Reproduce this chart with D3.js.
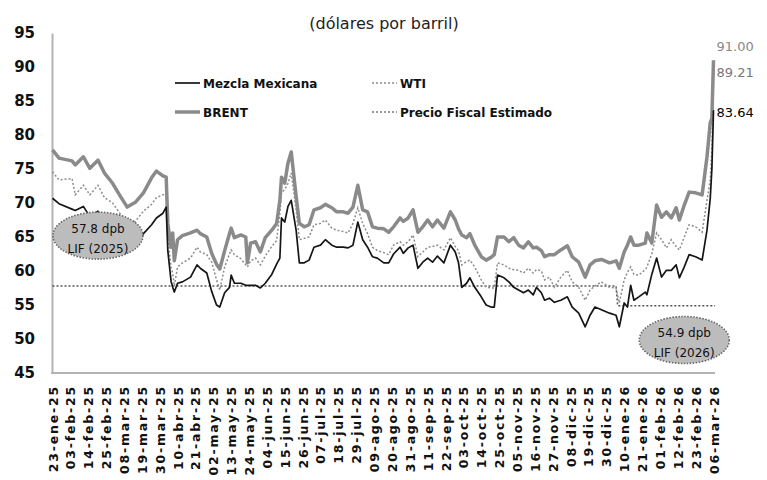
<!DOCTYPE html>
<html lang="es">
<head>
    <meta charset="utf-8" />
    <title>Precios del petróleo</title>
    <script src="https://d3js.org/d3.v7.min.js"></script>
    <style>
        body { margin: 0; background: white; }
        svg { display: block; background: white; }
        text { font-family: 'DejaVu Sans', sans-serif; fill: #111; }
    </style>
</head>
<body>
    <script>
        // Fechas (observaciones)
        const dates = [
            "2025-01-23","2025-01-27","2025-02-04","2025-02-06","2025-02-11","2025-02-15","2025-02-20","2025-02-24","2025-03-01","2025-03-06",
            "2025-03-10","2025-03-15","2025-03-20","2025-03-25","2025-03-28","2025-04-01","2025-04-03","2025-04-04","2025-04-06","2025-04-07",
            "2025-04-08","2025-04-10","2025-04-13","2025-04-18","2025-04-22","2025-04-24","2025-04-28","2025-05-01","2025-05-04","2025-05-06",
            "2025-05-09","2025-05-12","2025-05-13","2025-05-15","2025-05-19","2025-05-22","2025-05-23","2025-05-25","2025-05-28","2025-05-31",
            "2025-06-03","2025-06-07","2025-06-10","2025-06-12","2025-06-13","2025-06-15","2025-06-17","2025-06-19","2025-06-22","2025-06-24",
            "2025-06-27","2025-06-30","2025-07-03","2025-07-07","2025-07-10","2025-07-14","2025-07-17","2025-07-21","2025-07-24","2025-07-27",
            "2025-07-30","2025-08-02","2025-08-05","2025-08-08","2025-08-11","2025-08-15","2025-08-18","2025-08-21","2025-08-25","2025-08-27",
            "2025-08-30","2025-09-02","2025-09-05","2025-09-08","2025-09-11","2025-09-14","2025-09-17","2025-09-21","2025-09-25","2025-09-28",
            "2025-09-30","2025-10-02","2025-10-05","2025-10-07","2025-10-10","2025-10-14","2025-10-17","2025-10-20","2025-10-22","2025-10-24",
            "2025-10-28","2025-10-31","2025-11-03","2025-11-06","2025-11-09","2025-11-12","2025-11-15","2025-11-17","2025-11-20","2025-11-22",
            "2025-11-25","2025-11-28","2025-12-02","2025-12-06","2025-12-09","2025-12-13","2025-12-17","2025-12-20","2025-12-23","2025-12-27",
            "2026-01-01","2026-01-05","2026-01-07","2026-01-10","2026-01-12","2026-01-14","2026-01-16","2026-01-19","2026-01-23","2026-01-24",
            "2026-01-27","2026-01-30","2026-02-02","2026-02-05","2026-02-08","2026-02-11","2026-02-13","2026-02-16","2026-02-19","2026-02-23",
            "2026-02-27","2026-03-02","2026-03-04","2026-03-05","2026-03-06"
        ];

        const brent = [
            77.8, 76.6, 76.2, 75.6, 76.8, 75.1, 76.3, 74.4, 72.9, 70.9,
            69.4, 70.1, 71.5, 73.7, 74.7, 74.0, 73.8, 67.0, 63.5, 65.6,
            61.5, 64.6, 65.2, 65.6, 66.0, 65.5, 65.0, 62.6, 61.0, 60.3,
            63.0, 65.5, 66.3, 64.9, 65.3, 65.0, 61.2, 64.1, 64.3, 62.8,
            64.9, 66.0, 67.0, 70.4, 73.8, 72.9, 75.9, 77.5, 71.0, 67.0,
            66.5, 66.8, 69.0, 69.3, 69.8, 69.3, 68.7, 68.7, 68.5, 69.4,
            72.6, 69.0, 68.7, 66.5, 66.3, 66.2, 65.7, 66.5, 67.8, 67.3,
            67.8, 69.0, 65.7, 66.5, 67.5, 66.5, 67.5, 66.3, 68.7, 67.5,
            66.2, 65.3, 64.9, 65.5, 63.8, 62.1, 61.6, 62.0, 62.4, 65.0,
            65.0, 64.3, 64.9, 63.8, 63.4, 64.3, 63.4, 63.5, 63.0, 62.1,
            62.4, 62.4, 63.1, 63.7, 62.1, 61.3, 59.1, 60.9, 61.5, 61.7,
            61.2, 61.5, 60.4, 62.8, 63.8, 65.0, 63.8, 63.8, 64.1, 65.6,
            64.1, 69.7, 67.9, 68.7, 67.8, 69.3, 67.5, 69.7, 71.6, 71.5,
            71.2, 76.8, 81.8, 82.5, 91.00
        ];

        const wti = [
            74.6, 73.4, 73.6, 71.2, 72.6, 71.2, 72.6, 70.8, 70.0, 68.3,
            67.0, 67.3, 68.8, 69.8, 70.8, 71.2, 71.2, 65.0, 60.5, 59.7,
            57.8, 60.6, 61.2, 61.9, 63.5, 62.8, 62.4, 61.3, 58.7, 57.2,
            60.6, 62.5, 63.1, 62.4, 61.8, 60.9, 60.6, 61.5, 61.9, 60.9,
            62.2, 63.6, 64.5, 68.5, 71.5, 72.0, 72.9, 74.4, 69.0, 64.6,
            64.8, 65.0, 66.8, 67.0, 67.5, 66.3, 66.0, 65.8, 65.6, 67.0,
            69.3, 67.0, 65.5, 63.5, 63.0, 62.7, 62.4, 63.8, 64.3, 63.8,
            64.3, 65.3, 62.1, 62.8, 63.5, 63.6, 63.8, 63.1, 64.9, 63.6,
            63.0, 60.9, 61.4, 61.6, 60.6, 58.7, 57.6, 57.5, 57.5, 61.2,
            60.9, 60.4, 60.2, 60.1, 59.7, 60.4, 59.7, 60.2, 60.0, 58.7,
            59.1, 57.6, 59.1, 60.1, 58.4, 57.6, 55.7, 57.2, 57.8, 58.4,
            57.6, 57.5, 55.3, 58.7, 59.8, 60.6, 59.5, 59.4, 60.2, 60.6,
            62.5, 65.6, 64.6, 63.4, 64.6, 63.6, 63.1, 65.0, 66.8, 66.5,
            65.7, 70.4, 73.4, 78.0, 89.21
        ];

        const mezcla = [
            70.7, 69.9, 69.1, 68.9, 69.5, 68.0, 68.8, 67.5, 66.0, 64.5,
            63.6, 64.3, 65.5, 66.8, 67.8, 68.5, 69.4, 63.0, 58.5, 57.6,
            56.9, 58.2, 58.4, 59.1, 60.9, 60.4, 59.7, 57.0, 55.0, 54.7,
            56.8, 57.6, 59.4, 58.2, 58.2, 57.9, 57.9, 57.9, 57.9, 57.5,
            58.2, 59.5, 61.0, 61.9, 67.8, 67.2, 69.5, 70.4, 66.0, 61.2,
            61.2, 61.6, 63.5, 63.8, 64.6, 63.8, 63.5, 63.5, 63.4, 63.8,
            67.2, 64.6, 63.5, 62.1, 61.9, 61.2, 61.2, 62.5, 63.5, 62.6,
            63.4, 63.8, 60.4, 61.3, 61.9, 61.3, 62.2, 61.2, 63.8, 62.8,
            61.2, 57.6, 58.2, 59.0, 57.6, 56.2, 55.0, 54.7, 54.7, 59.4,
            59.0, 58.4, 57.6, 57.2, 56.8, 57.2, 56.5, 57.6, 56.8, 55.7,
            56.0, 55.4, 55.7, 56.2, 54.7, 53.8, 51.8, 53.5, 54.7, 54.3,
            53.8, 53.5, 51.8, 55.3, 54.7, 57.9, 55.7, 56.2, 56.9, 56.5,
            59.5, 61.9, 59.1, 60.1, 60.1, 60.9, 59.0, 60.6, 62.4, 62.1,
            61.6, 66.0, 70.7, 75.0, 83.64
        ];

        // Precio fiscal estimado (LIF 2025 y LIF 2026)
        const fiscalDates = ["2025-01-23", "2026-01-05", "2026-01-06", "2026-03-07"];
        const fiscalValues = [57.8, 57.8, 54.9, 54.9];

        // Etiquetas del eje x (cada 11 días)
        const tickLabels = [
            "23-ene-25","03-feb-25","14-feb-25","25-feb-25","08-mar-25","19-mar-25","30-mar-25","10-abr-25",
            "21-abr-25","02-may-25","13-may-25","24-may-25","04-jun-25","15-jun-25","26-jun-25","07-jul-25",
            "18-jul-25","29-jul-25","09-ago-25","20-ago-25","31-ago-25","11-sep-25","22-sep-25","03-oct-25",
            "14-oct-25","25-oct-25","05-nov-25","16-nov-25","27-nov-25","08-dic-25","19-dic-25","30-dic-25",
            "10-ene-26","21-ene-26","01-feb-26","12-feb-26","23-feb-26","06-mar-26"
        ];
        const yTicks = [45, 50, 55, 60, 65, 70, 75, 80, 85, 90, 95];

        const parse = d3.timeParse("%Y-%m-%d");
        const width = 767, height = 480;

        const svg = d3.select("body").append("svg")
            .attr("width", width)
            .attr("height", height);

        const start = parse("2025-01-23");
        const x = d3.scaleTime()
            .domain([start, parse("2026-03-06")])
            .range([52.5, 713.5]);
        const y = d3.scaleLinear()
            .domain([45, 95])
            .range([373, 33]);

        // Título
        svg.append("text")
            .attr("x", 384)
            .attr("y", 29)
            .attr("text-anchor", "middle")
            .style("font-size", "16px")
            .style("fill", "#222")
            .text("(dólares por barril)");

        // Eje y
        const yAxis = svg.append("g")
            .attr("transform", "translate(52,0)")
            .call(d3.axisLeft(y).tickValues(yTicks).tickSize(0).tickPadding(17));
        yAxis.select(".domain").attr("stroke", "#b3b3b3").attr("stroke-width", 2);
        yAxis.selectAll("text")
            .style("font-family", "'DejaVu Sans', sans-serif")
            .style("font-size", "15px")
            .style("font-weight", "bold")
            .style("fill", "#111");

        // Eje x
        const tickDates = tickLabels.map((t, i) => d3.timeDay.offset(start, 11 * i));
        const xAxis = svg.append("g")
            .attr("transform", "translate(0,373)")
            .call(d3.axisBottom(x).tickValues(tickDates).tickSize(0).tickSizeOuter(0)
                .tickFormat((d, i) => tickLabels[i]));
        xAxis.select(".domain").attr("stroke", "#b3b3b3").attr("stroke-width", 2)
            .attr("d", "M51,0H715");
        xAxis.selectAll("text")
            .attr("transform", "rotate(-90)")
            .attr("x", -12)
            .attr("y", 0)
            .attr("dy", "0.36em")
            .style("text-anchor", "end")
            .style("font-family", "'DejaVu Sans', sans-serif")
            .style("font-size", "12.5px")
            .style("font-weight", "bold")
            .style("letter-spacing", "1.8px")
            .style("fill", "#111");

        const rows = dates.map((d, i) => ({ date: parse(d), brent: brent[i], wti: wti[i], mezcla: mezcla[i] }));
        const fiscal = fiscalDates.map((d, i) => ({ date: parse(d), v: fiscalValues[i] }));

        const lineOf = key => d3.line().x(d => x(d.date)).y(d => y(d[key]));

        // Anotación LIF 2026 (detrás de las líneas)
        function lifNote(date, value, line1, line2) {
            const g = svg.append("g")
                .attr("transform", `translate(${x(parse(date))},${y(value)})`);
            g.append("ellipse")
                .attr("rx", 45).attr("ry", 23.5)
                .attr("fill", "#bcbcbc")
                .attr("stroke", "#666")
                .attr("stroke-width", 1.6)
                .attr("stroke-dasharray", "1.5,1.5");
            g.append("text").attr("y", -3).attr("text-anchor", "middle")
                .style("font-size", "12px").text(line1);
            g.append("text").attr("y", 17).attr("text-anchor", "middle")
                .style("font-size", "12px").text(line2);
        }
        lifNote("2026-02-16", 49.85, "54.9 dpb", "LIF (2026)");

        svg.append("path").datum(fiscal)
            .attr("d", lineOf("v"))
            .attr("fill", "none")
            .attr("stroke", "#555")
            .attr("stroke-width", 1.5)
            .attr("stroke-dasharray", "2,2");

        svg.append("path").datum(rows)
            .attr("d", lineOf("brent"))
            .attr("fill", "none")
            .attr("stroke", "#8a8a8a")
            .attr("stroke-width", 3.5)
            .attr("stroke-linejoin", "round");

        svg.append("path").datum(rows)
            .attr("d", lineOf("wti"))
            .attr("fill", "none")
            .attr("stroke", "#8c8c8c")
            .attr("stroke-width", 1.5)
            .attr("stroke-dasharray", "2,2");

        svg.append("path").datum(rows)
            .attr("d", lineOf("mezcla"))
            .attr("fill", "none")
            .attr("stroke", "#151515")
            .attr("stroke-width", 1.7)
            .attr("stroke-linejoin", "round");

        // Anotación LIF 2025 (encima de las líneas)
        lifNote("2025-02-20", 65.2, "57.8 dpb", "LIF (2025)");

        // Últimos valores
        const last = rows[rows.length - 1];
        const endLabels = [
            { v: last.brent, dy: -9, color: "#888" },
            { v: last.wti, dy: 5, color: "#777" },
            { v: last.mezcla, dy: 7, color: "#000" }
        ];
        svg.selectAll(".endlab").data(endLabels).enter().append("text")
            .attr("x", x(last.date) + 3)
            .attr("y", d => y(d.v) + d.dy)
            .style("font-size", "13px")
            .style("fill", d => d.color)
            .text(d => d.v.toFixed(2));

        // Leyenda
        const legend = [
            { name: "Mezcla Mexicana", x: 175, y: 83, stroke: "#151515", w: 1.7, dash: null },
            { name: "BRENT", x: 175, y: 112, stroke: "#8a8a8a", w: 3.5, dash: null },
            { name: "WTI", x: 372, y: 83, stroke: "#8c8c8c", w: 1.5, dash: "2,2" },
            { name: "Precio Fiscal Estimado", x: 372, y: 112, stroke: "#777", w: 1.5, dash: "2,2" }
        ];
        const lg = svg.selectAll(".lg").data(legend).enter().append("g")
            .attr("transform", d => `translate(${d.x},${d.y})`);
        lg.append("line")
            .attr("x1", 0).attr("x2", 25)
            .attr("stroke", d => d.stroke)
            .attr("stroke-width", d => d.w)
            .attr("stroke-dasharray", d => d.dash);
        lg.append("text")
            .attr("x", 28)
            .attr("y", 4.5)
            .style("font-size", "12px")
            .style("font-weight", "bold")
            .text(d => d.name);
    </script>
</body>
</html>
